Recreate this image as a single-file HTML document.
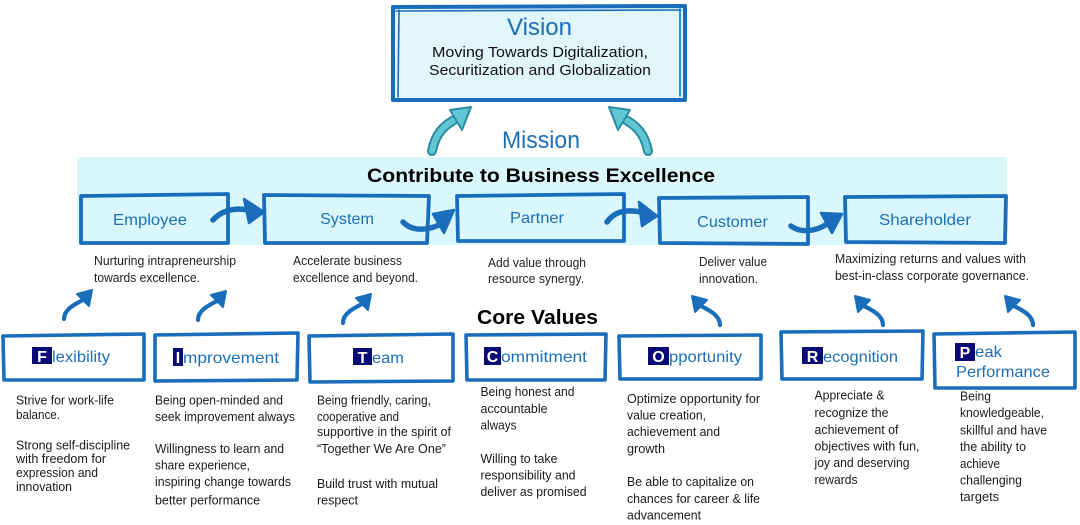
<!DOCTYPE html>
<html>
<head>
<meta charset="utf-8">
<style>
html,body{margin:0;padding:0;background:#fff;}
svg{display:block;}
text{font-family:"Liberation Sans",Arial,sans-serif;}
</style>
</head>
<body>
<svg width="1080" height="525" viewBox="0 0 1080 525" xmlns="http://www.w3.org/2000/svg">
<rect width="1080" height="525" fill="#fff"/>

<!-- Vision box -->
<rect x="395" y="7" width="288" height="92" fill="#e1f6fa"/>
<g fill="none" stroke="#1a6dbb" stroke-linecap="round" stroke-linejoin="round">
  <path d="M393,7 L685,6 L685,100 L393,100 Z" stroke-width="4"/>
  <path d="M399,10 L398,97 M680,9 L680,96 M396,11 L681,10" stroke-width="1.6"/>
</g>
<text x="507" y="35" font-size="24" fill="#1d6fb4" textLength="65" lengthAdjust="spacingAndGlyphs">Vision</text>
<text x="432" y="57" font-size="15" fill="#111" textLength="216" lengthAdjust="spacingAndGlyphs">Moving Towards Digitalization,</text>
<text x="429" y="75" font-size="15" fill="#111" textLength="222" lengthAdjust="spacingAndGlyphs">Securitization and Globalization</text>

<!-- Teal arrows to Vision -->
<g stroke-linecap="round" stroke-linejoin="round">
  <path d="M432,151 C435,135 443,125 458,118" fill="none" stroke="#2a8ba5" stroke-width="10"/>
  <path d="M432,151 C435,135 443,125 458,118" fill="none" stroke="#62c6d3" stroke-width="6"/>
  <polygon points="450,110 471,107 462,130" fill="#62c6d3" stroke="#2a8ba5" stroke-width="2"/>
  <path d="M648,151 C645,135 637,125 622,118" fill="none" stroke="#2a8ba5" stroke-width="10"/>
  <path d="M648,151 C645,135 637,125 622,118" fill="none" stroke="#62c6d3" stroke-width="6"/>
  <polygon points="630,110 609,107 618,130" fill="#62c6d3" stroke="#2a8ba5" stroke-width="2"/>
</g>
<text x="502" y="148" font-size="24" fill="#1d6fb4" textLength="78" lengthAdjust="spacingAndGlyphs">Mission</text>

<!-- Band -->
<rect x="77" y="157" width="930" height="88" fill="#daf7fc"/>
<text x="367" y="182" font-size="19.5" font-weight="bold" fill="#000" textLength="348" lengthAdjust="spacingAndGlyphs">Contribute to Business Excellence</text>

<!-- Main row boxes -->
<g fill="none" stroke="#1a6dbb" stroke-width="3.8" stroke-linecap="round" stroke-linejoin="round">
  <path d="M81,196 L228,194 L228,243 L81,243 Z"/>
  <path d="M264,195 L429,196 L427,243 L265,243 Z"/>
  <path d="M457,196 L624,194 L624,241 L458,241 Z"/>
  <path d="M659,198 L808,197 L808,244 L660,243 Z"/>
  <path d="M845,197 L1006,196 L1005,243 L846,242 Z"/>
</g>
<g font-size="16" fill="#1d6fb4">
  <text x="113" y="225" textLength="74" lengthAdjust="spacingAndGlyphs">Employee</text>
  <text x="320" y="224" textLength="54" lengthAdjust="spacingAndGlyphs">System</text>
  <text x="510" y="223" textLength="54" lengthAdjust="spacingAndGlyphs">Partner</text>
  <text x="697" y="227" textLength="71" lengthAdjust="spacingAndGlyphs">Customer</text>
  <text x="879" y="225" textLength="92" lengthAdjust="spacingAndGlyphs">Shareholder</text>
</g>

<!-- Main row arrows -->
<g stroke="#1a6dbb" stroke-linecap="round" stroke-linejoin="round">
  <path d="M213,220 C220,212 232,207 248,210" fill="none" stroke-width="5.5"/>
  <polygon points="244,199 264,212 249,223" fill="#1a6dbb" stroke-width="2.5"/>
  <path d="M403,222 C412,231 425,231 439,225" fill="none" stroke-width="5.5"/>
  <polygon points="433,214 454,210 444,233" fill="#1a6dbb" stroke-width="2.5"/>
  <path d="M607,222 C614,212 624,209 641,212" fill="none" stroke-width="5.5"/>
  <polygon points="639,202 657,216 642,226" fill="#1a6dbb" stroke-width="2.5"/>
  <path d="M791,226 C800,233 815,232 827,224" fill="none" stroke-width="5.5"/>
  <polygon points="821,213 842,214 832,233" fill="#1a6dbb" stroke-width="2.5"/>
</g>

<!-- Main row descriptions -->
<g font-size="12.5" fill="#222">
  <text x="94" y="265" textLength="142" lengthAdjust="spacingAndGlyphs">Nurturing intrapreneurship</text>
  <text x="94" y="282" textLength="106" lengthAdjust="spacingAndGlyphs">towards excellence.</text>
  <text x="293" y="265" textLength="109" lengthAdjust="spacingAndGlyphs">Accelerate business</text>
  <text x="293" y="282" textLength="125" lengthAdjust="spacingAndGlyphs">excellence and beyond.</text>
  <text x="488" y="267" textLength="98" lengthAdjust="spacingAndGlyphs">Add value through</text>
  <text x="488" y="283" textLength="96" lengthAdjust="spacingAndGlyphs">resource synergy.</text>
  <text x="699" y="266" textLength="68" lengthAdjust="spacingAndGlyphs">Deliver value</text>
  <text x="699" y="283" textLength="59" lengthAdjust="spacingAndGlyphs">innovation.</text>
  <text x="835" y="263" textLength="191" lengthAdjust="spacingAndGlyphs">Maximizing returns and values with</text>
  <text x="835" y="280" textLength="194" lengthAdjust="spacingAndGlyphs">best-in-class corporate governance.</text>
</g>

<!-- Core Values title -->
<text x="477" y="324" font-size="20" font-weight="bold" fill="#000" textLength="121" lengthAdjust="spacingAndGlyphs">Core Values</text>

<!-- Small arrows -->
<defs>
  <g id="ua">
    <path d="M0,0 C0,-9 9,-14 19,-19" fill="none" stroke="#1a6dbb" stroke-width="4.2" stroke-linecap="round"/>
    <polygon points="13,-25 28,-29 25,-13" fill="#1a6dbb" stroke="#1a6dbb" stroke-width="2" stroke-linejoin="round"/>
  </g>
</defs>
<use href="#ua" transform="translate(64,319)"/>
<use href="#ua" transform="translate(198,320)"/>
<use href="#ua" transform="translate(343,323)"/>
<use href="#ua" transform="translate(720,325) scale(-1,1)"/>
<use href="#ua" transform="translate(883,325) scale(-1,1)"/>
<use href="#ua" transform="translate(1033,325) scale(-1,1)"/>

<!-- Core value boxes -->
<g fill="#fff" stroke="#1a6dbb" stroke-width="3.6" stroke-linejoin="round">
  <path d="M3,336 L144,334 L144,380 L4,380 Z"/>
  <path d="M155,335 L298,333 L297,380 L155,381 Z"/>
  <path d="M309,336 L453,334 L453,381 L310,382 Z"/>
  <path d="M466,335 L606,334 L605,380 L467,380 Z"/>
  <path d="M619,336 L761,335 L761,379 L620,379 Z"/>
  <path d="M781,332 L923,331 L922,379 L782,379 Z"/>
  <path d="M934,334 L1075,332 L1075,388 L935,388 Z"/>
</g>

<!-- Badges -->
<g fill="#0b0b78">
  <rect x="32" y="347" width="20" height="17"/>
  <rect x="173" y="348" width="10" height="18"/>
  <rect x="353" y="348" width="19" height="17"/>
  <rect x="484" y="347" width="17" height="18"/>
  <rect x="648" y="347" width="21" height="18"/>
  <rect x="802" y="347" width="21" height="17"/>
  <rect x="955" y="343" width="20" height="18"/>
</g>
<g font-size="16" font-weight="bold" fill="#fff" text-anchor="middle">
  <text x="42" y="362">F</text>
  <text x="178" y="363">I</text>
  <text x="362.5" y="363">T</text>
  <text x="492.5" y="362">C</text>
  <text x="658.5" y="362">O</text>
  <text x="812.5" y="362">R</text>
  <text x="965" y="358">P</text>
</g>
<g font-size="16" fill="#1d6fb4">
  <text x="52" y="362" textLength="58" lengthAdjust="spacingAndGlyphs">lexibility</text>
  <text x="183" y="363" textLength="96" lengthAdjust="spacingAndGlyphs">mprovement</text>
  <text x="372" y="363" textLength="32" lengthAdjust="spacingAndGlyphs">eam</text>
  <text x="501" y="362" textLength="86" lengthAdjust="spacingAndGlyphs">ommitment</text>
  <text x="669" y="362" textLength="73" lengthAdjust="spacingAndGlyphs">pportunity</text>
  <text x="823" y="362" textLength="75" lengthAdjust="spacingAndGlyphs">ecognition</text>
  <text x="975" y="357" textLength="27" lengthAdjust="spacingAndGlyphs">eak</text>
  <text x="956" y="377" textLength="94" lengthAdjust="spacingAndGlyphs">Performance</text>
</g>

<!-- Core descriptions -->
<g font-size="12.5" fill="#1a1a1a">
  <text x="16" y="404.5" textLength="98" lengthAdjust="spacingAndGlyphs">Strive for work-life</text>
  <text x="16" y="419" textLength="44" lengthAdjust="spacingAndGlyphs">balance.</text>
  <text x="16" y="449.5" textLength="114" lengthAdjust="spacingAndGlyphs">Strong self-discipline</text>
  <text x="16" y="463" textLength="90" lengthAdjust="spacingAndGlyphs">with freedom for</text>
  <text x="16" y="477" textLength="82" lengthAdjust="spacingAndGlyphs">expression and</text>
  <text x="16" y="491" textLength="56" lengthAdjust="spacingAndGlyphs">innovation</text>

  <text x="155" y="404.5" textLength="128" lengthAdjust="spacingAndGlyphs">Being open-minded and</text>
  <text x="155" y="421" textLength="140" lengthAdjust="spacingAndGlyphs">seek improvement always</text>
  <text x="155" y="453" textLength="129" lengthAdjust="spacingAndGlyphs">Willingness to learn and</text>
  <text x="155" y="469.5" textLength="95" lengthAdjust="spacingAndGlyphs">share experience,</text>
  <text x="155" y="486" textLength="136" lengthAdjust="spacingAndGlyphs">inspiring change towards</text>
  <text x="155" y="504.5" textLength="105" lengthAdjust="spacingAndGlyphs">better performance</text>

  <text x="317" y="404.5" textLength="114" lengthAdjust="spacingAndGlyphs">Being friendly, caring,</text>
  <text x="317" y="421" textLength="82" lengthAdjust="spacingAndGlyphs">cooperative and</text>
  <text x="317" y="436" textLength="134" lengthAdjust="spacingAndGlyphs">supportive in the spirit of</text>
  <text x="317" y="453" textLength="129" lengthAdjust="spacingAndGlyphs">“Together We Are One”</text>
  <text x="317" y="488" textLength="121" lengthAdjust="spacingAndGlyphs">Build trust with mutual</text>
  <text x="317" y="504.5" textLength="41" lengthAdjust="spacingAndGlyphs">respect</text>

  <text x="480.5" y="396" textLength="94" lengthAdjust="spacingAndGlyphs">Being honest and</text>
  <text x="480.5" y="413" textLength="67" lengthAdjust="spacingAndGlyphs">accountable</text>
  <text x="480.5" y="429.5" textLength="36" lengthAdjust="spacingAndGlyphs">always</text>
  <text x="480.5" y="463" textLength="77" lengthAdjust="spacingAndGlyphs">Willing to take</text>
  <text x="480.5" y="479.5" textLength="95" lengthAdjust="spacingAndGlyphs">responsibility and</text>
  <text x="480.5" y="496" textLength="106" lengthAdjust="spacingAndGlyphs">deliver as promised</text>

  <text x="627" y="403" textLength="133" lengthAdjust="spacingAndGlyphs">Optimize opportunity for</text>
  <text x="627" y="419.5" textLength="79" lengthAdjust="spacingAndGlyphs">value creation,</text>
  <text x="627" y="436" textLength="93" lengthAdjust="spacingAndGlyphs">achievement and</text>
  <text x="627" y="453" textLength="38" lengthAdjust="spacingAndGlyphs">growth</text>
  <text x="627" y="486" textLength="127" lengthAdjust="spacingAndGlyphs">Be able to capitalize on</text>
  <text x="627" y="503" textLength="133" lengthAdjust="spacingAndGlyphs">chances for career &amp; life</text>
  <text x="627" y="519.5" textLength="74" lengthAdjust="spacingAndGlyphs">advancement</text>

  <text x="814.5" y="399.5" textLength="70" lengthAdjust="spacingAndGlyphs">Appreciate &amp;</text>
  <text x="814.5" y="417" textLength="74" lengthAdjust="spacingAndGlyphs">recognize the</text>
  <text x="814.5" y="434" textLength="84" lengthAdjust="spacingAndGlyphs">achievement of</text>
  <text x="814.5" y="450.5" textLength="105" lengthAdjust="spacingAndGlyphs">objectives with fun,</text>
  <text x="814.5" y="467" textLength="95" lengthAdjust="spacingAndGlyphs">joy and deserving</text>
  <text x="814.5" y="484" textLength="43" lengthAdjust="spacingAndGlyphs">rewards</text>

  <text x="960" y="400.5" textLength="31" lengthAdjust="spacingAndGlyphs">Being</text>
  <text x="960" y="417" textLength="84" lengthAdjust="spacingAndGlyphs">knowledgeable,</text>
  <text x="960" y="434.5" textLength="87" lengthAdjust="spacingAndGlyphs">skillful and have</text>
  <text x="960" y="451" textLength="66" lengthAdjust="spacingAndGlyphs">the ability to</text>
  <text x="960" y="468" textLength="40" lengthAdjust="spacingAndGlyphs">achieve</text>
  <text x="960" y="484.5" textLength="62" lengthAdjust="spacingAndGlyphs">challenging</text>
  <text x="960" y="501" textLength="39" lengthAdjust="spacingAndGlyphs">targets</text>
</g>
</svg>
</body>
</html>
